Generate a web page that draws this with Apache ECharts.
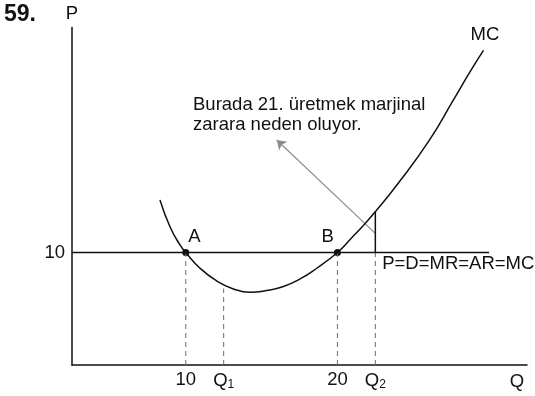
<!DOCTYPE html>
<html>
<head>
<meta charset="utf-8">
<script src="https://cdn.jsdelivr.net/npm/echarts@6/dist/echarts.min.js"></script>
<style>
  html, body { margin: 0; padding: 0; background: #fff; }
  #chart { width: 535px; height: 396px; }
</style>
</head>
<body>
<div id="chart"></div>
<script>
// MC curve (Q, P)
const mcQ = [8.3, 8.96, 9.62, 10, 10.94, 12.04, 13.14, 14.24, 15.34, 16.44, 17.54, 18.64, 20, 20.84, 21.83, 22.5, 23.92, 26.0, 27.65, 28.75, 29.63]
const mcP = [14.67, 12.29, 10.67, 10, 8.6, 7.47, 6.76, 6.46, 6.62, 6.98, 7.65, 8.6, 10, 11.16, 12.58, 13.63, 16.0, 19.85, 23.56, 26.07, 27.96]

// price line P = 10
const price = 10
const priceQ = [2.5, 30]

// dashed guides down to the Q axis
const guideQ = [10, 12.5, 20, 22.5]
const guideTop = [10, 6.8, 10, 10]

// points A, B
const pointNames = ['A', 'B']
const pointQ = [10, 20]

// x tick labels
const tickQ = [10, 12.5, 20, 22.5]
const tickText = ['10', 'Q1', '20', 'Q2']

// Q2 vertical (loss area) and arrow
const q2Top = 13.63
const arrowFrom = [22.5, 11.7]
const arrowTo = [16.0, 20]

const note = 'Burada 21. üretmek marjinal\nzarara neden oluyor.'
const curveName = 'MC'
const priceText = 'P=D=MR=AR=MC'

const ink = '#111'
const font = 'Liberation Sans, Arial, sans-serif'
const fs = 18.5

const chart = echarts.init(document.getElementById('chart'))

const guideSeries = guideQ.map((q, i) => ({
  type: 'line',
  data: [[q, 0], [q, guideTop[i]]],
  symbol: 'none',
  silent: true,
  lineStyle: { color: '#6d6e71', width: 1, type: [5, 4] }
}))

const options = {
  animation: false,
  title: {
    text: '59.',
    left: 4,
    top: 3,
    padding: 0,
    textStyle: { fontFamily: font, fontSize: 23, fontWeight: 'bold', color: ink }
  },
  grid: { left: 72, right: 8, top: 27.5, bottom: 31 },
  xAxis: {
    type: 'value',
    min: 2.5,
    max: 32.5,
    name: 'Q',
    nameLocation: 'end',
    nameGap: -10,
    nameTextStyle: { fontFamily: font, fontSize: fs, color: ink, align: 'center', verticalAlign: 'top', padding: [7, 0, 0, 0] },
    axisLine: { lineStyle: { color: ink, width: 1.5 } },
    axisTick: { show: false },
    splitLine: { show: false },
    axisLabel: {
      customValues: tickQ,
      margin: 5,
      fontFamily: font,
      fontSize: fs,
      color: ink,
      formatter: (v) => {
        const t = tickText[tickQ.indexOf(v)] || ''
        if (t.startsWith('Q')) return '{q|Q}{s|' + t.slice(1) + '}'
        return t
      },
      rich: {
        q: { fontFamily: font, fontSize: fs, color: ink },
        s: { fontFamily: font, fontSize: 12, color: ink, padding: [9, 0, 0, 0] }
      }
    }
  },
  yAxis: {
    type: 'value',
    min: 0,
    max: 30,
    name: 'P',
    nameLocation: 'end',
    nameGap: 4,
    nameTextStyle: { fontFamily: font, fontSize: fs, color: ink },
    axisLine: { lineStyle: { color: ink, width: 1.5 } },
    axisTick: { show: false },
    splitLine: { show: false },
    axisLabel: {
      customValues: [price],
      margin: 7,
      fontFamily: font,
      fontSize: fs,
      color: ink
    }
  },
  series: [
    ...guideSeries,
    {
      type: 'line',
      data: priceQ.map(q => [q, price]),
      symbol: 'none',
      lineStyle: { color: ink, width: 1.5 }
    },
    {
      type: 'line',
      data: [[tickQ[3], price], [tickQ[3], q2Top]],
      symbol: 'none',
      lineStyle: { color: ink, width: 1.5 }
    },
    {
      type: 'lines',
      coordinateSystem: 'cartesian2d',
      symbol: ['none', 'arrow'],
      symbolSize: [6, 9],
      lineStyle: { color: '#8c8c8c', width: 1.2, opacity: 1 },
      data: [{ coords: [arrowFrom, arrowTo] }]
    },
    {
      type: 'line',
      name: curveName,
      smooth: 0.5,
      symbol: 'none',
      lineStyle: { color: ink, width: 1.5 },
      data: mcQ.map((q, i) => [q, mcP[i]]),
      endLabel: {
        show: true,
        formatter: curveName,
        fontFamily: font,
        fontSize: fs,
        color: ink,
        offset: [-21, -15.5]
      }
    },
    {
      type: 'scatter',
      symbolSize: 7,
      itemStyle: { color: ink, opacity: 1 },
      data: pointQ.map((q, i) => ({
        value: [q, price],
        label: {
          show: true,
          formatter: pointNames[i],
          position: i === 0 ? [6, -22] : [-12.5, -22],
          fontFamily: font,
          fontSize: fs,
          color: ink,
          opacity: 1
        }
      }))
    },
    {
      type: 'scatter',
      symbolSize: 0,
      clip: false,
      silent: true,
      itemStyle: { opacity: 1 },
      data: [
        {
          value: [10.48, 22.2],
          label: { show: true, formatter: note, position: 'right', distance: 0, align: 'left', lineHeight: 20, fontFamily: font, fontSize: fs, color: ink, opacity: 1 }
        },
        {
          value: [22.95, 9.0],
          label: { show: true, formatter: priceText, position: 'right', distance: 0, fontFamily: font, fontSize: fs, color: ink, opacity: 1 }
        }
      ]
    }
  ]
}

chart.setOption(options)
</script>
</body>
</html>
